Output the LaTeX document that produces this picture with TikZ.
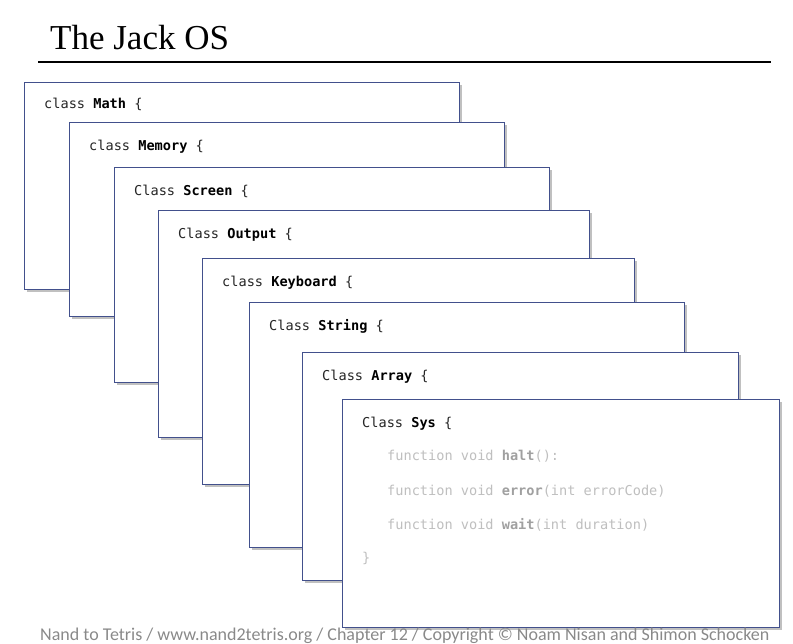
\documentclass[tikz,border=0pt]{standalone}
\usepackage{fontspec}
\setmainfont{Liberation Serif}
\setmonofont{DejaVu Sans Mono}
\newfontfamily\footfont{Carlito}
\usetikzlibrary{shadows}

\definecolor{boxblue}{RGB}{66,80,140}
\definecolor{codedark}{RGB}{38,38,38}
\definecolor{codelight}{RGB}{191,191,191}
\definecolor{codemid}{RGB}{160,160,160}
\definecolor{footgray}{RGB}{137,137,137}

\tikzset{
    classbox/.style={draw=boxblue, line width=0.9pt, fill=white, inner sep=0pt,
        anchor=north west, minimum width=435pt,
        drop shadow={shadow xshift=2.2pt, shadow yshift=-2.2pt, opacity=0.45, fill=black!55}},
    code/.style={anchor=base west, inner sep=0pt, text=codedark,
        font=\ttfamily\fontsize{13.6}{16}\selectfont},
    fun/.style={code, text=codelight}
}

\begin{document}
\begin{tikzpicture}[x=1pt, y=-1pt]
    \useasboundingbox (0,0) rectangle (793,643);

    % title and rule
    \node[anchor=base west, inner sep=0pt, font=\fontsize{35}{40}\selectfont] (title) at (50,49) {The Jack OS};
    \coordinate (rulel) at (38,62);
    \coordinate (ruler) at (771,62);
    \draw[line width=1.6pt] (rulel) -- (ruler);

    % stacked classes, back to front
    \node[classbox, minimum height=207pt] (math) at (24,82) {};
    \node[code] (mathhead) at (44,108) {class \textbf{\color{black}Math} \{};

    \node[classbox, minimum height=194pt] (memory) at (69,122) {};
    \node[code] (memoryhead) at (89,150) {class \textbf{\color{black}Memory} \{};

    \node[classbox, minimum height=215pt] (screen) at (114,167) {};
    \node[code] (screenhead) at (134,195) {Class \textbf{\color{black}Screen} \{};

    \node[classbox, minimum width=431pt, minimum height=227pt] (output) at (158,210) {};
    \node[code] (outputhead) at (178,238) {Class \textbf{\color{black}Output} \{};

    \node[classbox, minimum width=432pt, minimum height=226pt] (keyboard) at (202,258) {};
    \node[code] (keyboardhead) at (222,286) {class \textbf{\color{black}Keyboard} \{};

    \node[classbox, minimum height=245pt] (string) at (249,302) {};
    \node[code] (stringhead) at (269,330) {Class \textbf{\color{black}String} \{};

    \node[classbox, minimum width=436pt, minimum height=228pt] (array) at (302,352) {};
    \node[code] (arrayhead) at (322,380) {Class \textbf{\color{black}Array} \{};

    \node[classbox, minimum width=437pt, minimum height=228pt] (sys) at (342,399) {};
    \node[code] (syshead) at (362,427) {Class \textbf{\color{black}Sys} \{};
    \node[fun] (halt) at (387,460) {function void \textbf{\color{codemid}halt}():};
    \node[fun] (error) at (387,495) {function void \textbf{\color{codemid}error}(int errorCode)};
    \node[fun] (wait) at (387,529) {function void \textbf{\color{codemid}wait}(int duration)};
    \node[fun] (sysend) at (362,562) {\}};

    % footer
    \node[anchor=base west, inner sep=0pt, text=footgray, font=\footfont\fontsize{18}{20}\selectfont] (footer) at (40,640)
        {Nand to Tetris / www.nand2tetris.org / Chapter 12 / Copyright © Noam Nisan and Shimon Schocken};
\end{tikzpicture}
\end{document}
